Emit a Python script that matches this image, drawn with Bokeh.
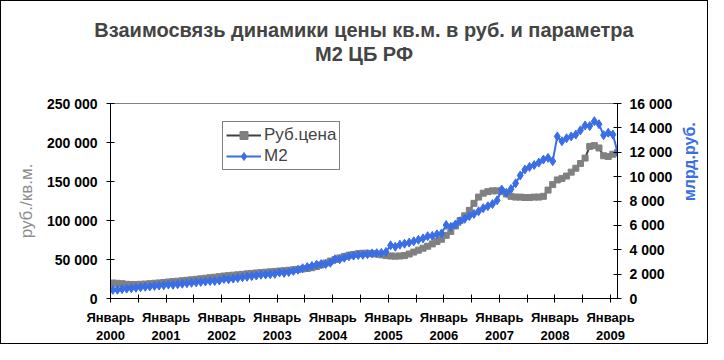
import math
from bokeh.plotting import figure
from bokeh.models import (Range1d, LinearAxis, FixedTicker, CustomJSTickFormatter,
                          Legend, LegendItem, Title)
from bokeh.embed import file_html
from bokeh.resources import INLINE

# ---- data (monthly, Jan 2000 .. Feb 2009) ----
years = [2000, 2001, 2002, 2003, 2004, 2005, 2006, 2007, 2008, 2009]

rub_price = [
    19900, 19500, 19000, 18200, 18000, 18000, 18200, 18500, 19000, 19500, 20000, 20500,   # 2000
    21200, 21700, 22200, 22700, 23300, 24000, 24600, 25300, 26000, 26700, 27300, 28000,   # 2001
    28800, 29300, 29900, 30400, 31000, 31600, 32200, 32700, 33200, 33700, 34200, 34700,   # 2002
    35200, 35700, 36200, 36700, 37300, 37900, 38500, 39500, 41000, 43000, 45500, 48000,   # 2003
    50000, 52000, 54000, 55500, 56500, 57500, 58000, 58000, 57500, 57000, 56000, 55000,   # 2004
    54500, 54300, 54500, 55000, 57000, 59500, 62000, 64500, 67000, 70000, 73000, 76000,   # 2005
    81000, 86000, 93000, 100000, 106000, 113000, 122000, 130000, 135000, 137000, 138000, 138000,  # 2006
    137000, 134000, 131000, 130000, 130000, 129500, 129500, 130000, 130000, 131000, 139000, 146000,  # 2007
    152000, 154000, 157000, 162000, 167000, 173000, 180000, 195000, 196000, 193000, 183000, 182000,  # 2008
    185000, 187000,                                                                              # 2009
]

m2 = [
    715, 716, 772, 810, 841, 878, 922, 961, 988, 1035, 1062, 1086,          # 2000
    1144, 1126, 1170, 1215, 1255, 1286, 1326, 1363, 1393, 1427, 1436, 1480,  # 2001
    1603, 1578, 1636, 1686, 1747, 1782, 1837, 1888, 1950, 1962, 1986, 2021,  # 2002
    2135, 2102, 2173, 2264, 2359, 2483, 2577, 2671, 2776, 2823, 2832, 2938,  # 2003
    3213, 3219, 3343, 3464, 3516, 3568, 3585, 3639, 3700, 3720, 3742, 3823,  # 2004
    4363, 4251, 4418, 4495, 4587, 4695, 4815, 4932, 5115, 5134, 5266, 5338,  # 2005
    6032, 5877, 6075, 6338, 6537, 6759, 6941, 7158, 7414, 7574, 7747, 8052,  # 2006
    8940, 8670, 8980, 9450, 10100, 10580, 10800, 10950, 11150, 11400, 11540, 11270,  # 2007
    13300, 12900, 13150, 13300, 13450, 13800, 14200, 14150, 14550, 14300, 13400, 13600,  # 2008
    13450, 12000,                                                             # 2009
]

x = [i + 0.5 for i in range(len(m2))]

BLUE = "#3A6EE6"
GRAY = "#808080"
FONT = "Liberation Sans"

p = figure(width=708, height=344, output_backend="svg", toolbar_location=None,
           x_range=Range1d(0, 109.5), y_range=Range1d(0, 250000), title=None,
           min_border_left=109, min_border_right=86, min_border_top=0, min_border_bottom=46)
p.styles = {"border": "1px solid black"}
p.outline_line_color = GRAY
p.xgrid.visible = False
p.ygrid.visible = False
p.background_fill_color = "white"
p.border_fill_color = "white"

fmt = CustomJSTickFormatter(code="return Math.round(tick).toString().replace(/\\B(?=(\\d{3})+(?!\\d))/g, ' ');")

p.extra_y_ranges = {"m2": Range1d(0, 16000)}
rax = LinearAxis(y_range_name="m2", ticker=FixedTicker(ticks=list(range(0, 16001, 2000))), formatter=fmt)
p.add_layout(rax, "right")

p.yaxis[0].ticker = FixedTicker(ticks=list(range(0, 250001, 50000)))
p.yaxis[0].formatter = fmt

xax = p.xaxis[0]
xax.ticker = FixedTicker(ticks=[12 * i for i in range(len(years))],
                         minor_ticks=[12 * i + 6 for i in range(len(years) - 1)])
xax.major_label_overrides = {12 * i: f"Январь\n{y}" for i, y in enumerate(years)}

for ax in [p.yaxis[0], rax, xax]:
    ax.axis_line_color = "black"
    ax.major_tick_line_color = "black"
    ax.major_tick_in = 4
    ax.major_tick_out = 4
    ax.major_label_text_font = FONT
    ax.major_label_text_font_style = "bold"
    ax.major_label_text_font_size = "14px"
    ax.major_label_text_color = "black"
    ax.axis_label_text_font = FONT
    ax.axis_label_text_font_size = "17px"
    ax.axis_label_text_font_style = "normal"
xax.major_label_text_font_size = "13px"
xax.minor_tick_line_color = "black"
xax.minor_tick_in = 4
xax.minor_tick_out = 4
xax.major_label_standoff = 7
p.yaxis[0].minor_tick_line_color = None
rax.minor_tick_line_color = None
p.yaxis[0].major_label_standoff = 9
rax.major_label_standoff = 8

p.yaxis[0].axis_label = "руб./кв.м."
p.yaxis[0].axis_label_text_color = "#8c8c8c"
p.yaxis[0].axis_label_standoff = 8
rax.axis_label = "млрд.руб."
rax.axis_label_text_color = BLUE
rax.axis_label_text_font_style = "bold"
rax.axis_label_text_font_size = "16px"
rax.axis_label_standoff = 14
if "axis_label_orientation" in rax.properties():
    rax.axis_label_orientation = math.pi / 2

gl = p.line(x, rub_price, line_color="#404040", line_width=2)
gs = p.scatter(x, rub_price, marker="square", size=6, fill_color=GRAY, line_color=GRAY)
bl = p.line(x, m2, line_color=BLUE, line_width=2, y_range_name="m2")
bs = p.scatter(x, m2, marker="diamond", size=9, fill_color=BLUE, line_color=BLUE, y_range_name="m2")

legend = Legend(items=[LegendItem(label="Руб.цена", renderers=[gl, gs]),
                       LegendItem(label="М2", renderers=[bl, bs])],
                location=(112, 128), orientation="vertical",
                label_text_font=FONT, label_text_font_size="17px",
                glyph_width=35, glyph_height=20, label_height=20, label_standoff=3,
                padding=3, spacing=1,
                border_line_color="black", border_line_width=1, background_fill_alpha=1,
                margin=0)
p.add_layout(legend, "center")

# titles (stacked from the frame outward)
p.add_layout(Title(text=" ", text_font_size="1px", standoff=35), "above")
p.add_layout(Title(text="М2 ЦБ РФ", align="center", vertical_align="middle", text_font=FONT,
                   text_font_size="20px", text_font_style="bold", standoff=0, offset=-4), "above")
p.add_layout(Title(text="Взаимосвязь динамики цены кв.м. в руб. и параметра", align="center",
                   vertical_align="middle", text_font=FONT, text_font_size="20px",
                   text_font_style="bold", standoff=0, offset=-4), "above")
p.add_layout(Title(text=" ", text_font_size="1px", standoff=13), "above")

open("out.html", "w").write(file_html(p, INLINE))
